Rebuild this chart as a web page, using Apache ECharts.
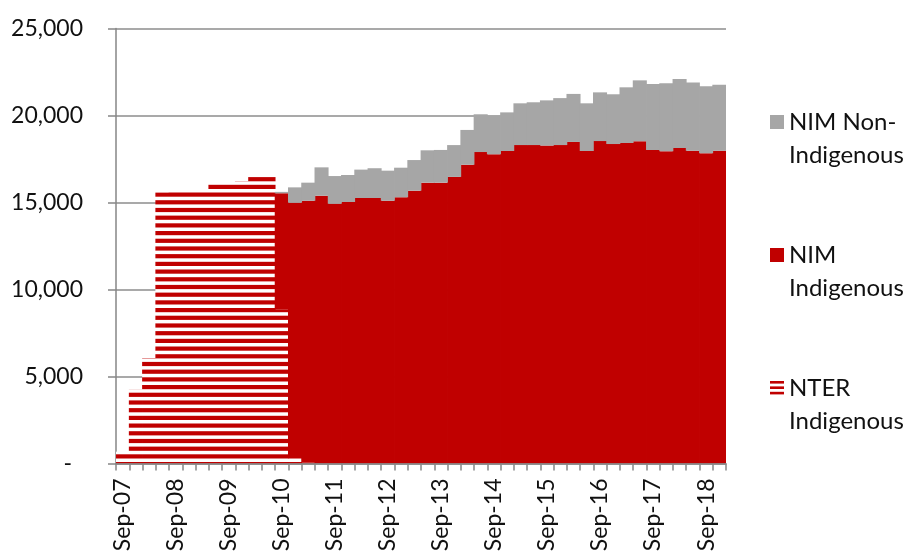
<!DOCTYPE html>
<html>
<head>
<meta charset="utf-8">
<script src="https://cdn.jsdelivr.net/npm/echarts@6/dist/echarts.min.js"></script>
<style>
  html, body { margin: 0; padding: 0; background: #fff; }
  #chart { width: 911px; height: 556px; }
</style>
</head>
<body>
<div id="chart"></div>
<script>
// Quarterly periods, Sep-07 .. Dec-18
const quarters = [
  'Sep-07','Dec-07','Mar-08','Jun-08',
  'Sep-08','Dec-08','Mar-09','Jun-09',
  'Sep-09','Dec-09','Mar-10','Jun-10',
  'Sep-10','Dec-10','Mar-11','Jun-11',
  'Sep-11','Dec-11','Mar-12','Jun-12',
  'Sep-12','Dec-12','Mar-13','Jun-13',
  'Sep-13','Dec-13','Mar-14','Jun-14',
  'Sep-14','Dec-14','Mar-15','Jun-15',
  'Sep-15','Dec-15','Mar-16','Jun-16',
  'Sep-16','Dec-16','Mar-17','Jun-17',
  'Sep-17','Dec-17','Mar-18','Jun-18',
  'Sep-18','Dec-18'
];

// NTER Indigenous recipients (null = no payments in that quarter)
const nterIndigenous = [
  680, 4250, 6060, 15590,
  15700, 15760, 15760, 16060,
  16160, 16220, 16470, 16560,
  8860, 300, 40, null,
  null, null, null, null,
  null, null, null, null,
  null, null, null, null,
  null, null, null, null,
  null, null, null, null,
  null, null, null, null,
  null, null, null, null,
  null, null
];

// NIM Indigenous recipients
const nimIndigenous = [
  null, null, null, null,
  null, null, null, null,
  null, null, null, null,
  6670, 14690, 15060, 15390,
  14930, 15030, 15260, 15260,
  15100, 15300, 15680, 16140,
  16140, 16470, 17170, 17900,
  17770, 17960, 18300, 18300,
  18270, 18300, 18480, 17960,
  18530, 18360, 18420, 18520,
  18020, 17940, 18130, 17980,
  17830, 17980
];

// NIM Non-Indigenous recipients
const nimNonIndigenous = [
  null, null, null, null,
  null, null, null, null,
  null, null, null, null,
  80, 880, 1040, 1630,
  1590, 1550, 1630, 1710,
  1730, 1700, 1760, 1860,
  1880, 1830, 2000, 2170,
  2200, 2220, 2400, 2460,
  2600, 2700, 2760, 2740,
  2800, 2860, 3200, 3500,
  3790, 3910, 3970, 3910,
  3850, 3790
];

const yTicks = [0, 5000, 10000, 15000, 20000, 25000];

const RED = '#C00000';
const GREY = '#A6A6A6';
const AXIS = '#868686';
const INK = '#111';
const FONT = 'Lato, "Open Sans", sans-serif';
// columns slightly wider than their band so neighbours overlap with no seam
const COLUMN_WIDTH = '106%';

// Horizontal red/white stripe fill
function stripes(period, band, count) {
  const c = document.createElement('canvas');
  c.width = 8;
  c.height = Math.round(period * count);
  const g = c.getContext('2d');
  g.fillStyle = '#fff';
  g.fillRect(0, 0, c.width, c.height);
  g.fillStyle = RED;
  for (let i = 0; i < count; i++) {
    g.fillRect(0, i * period, c.width, band);
  }
  return { image: c, repeat: 'repeat' };
}

const barFill = stripes(7.7, 4.2, 10);
const iconFill = stripes(5.4, 2.6, 10);

// leading blank line keeps the legend swatch level with the first text line
const legendText = {
  'NIM Non-Indigenous': '\nNIM Non-\nIndigenous',
  'NIM Indigenous': '\nNIM\nIndigenous',
  'NTER Indigenous': '\nNTER\nIndigenous'
};

const chart = echarts.init(document.getElementById('chart'), null, { renderer: 'canvas' });

chart.setOption({
  animation: false,
  backgroundColor: '#fff',
  grid: { left: 116, right: 185, top: 28.5, bottom: 92.5, containLabel: false },
  legend: {
    orient: 'vertical',
    left: 770,
    top: 72.5,
    padding: 0,
    itemGap: 34,
    itemWidth: 14,
    itemHeight: 14,
    icon: 'rect',
    selectedMode: false,
    formatter: name => legendText[name],
    textStyle: {
      fontFamily: FONT, fontSize: 24, color: INK, lineHeight: 33
    },
    data: [
      { name: 'NIM Non-Indigenous' },
      { name: 'NIM Indigenous' },
      { name: 'NTER Indigenous', itemStyle: { color: iconFill } }
    ]
  },
  xAxis: {
    type: 'category',
    data: quarters,
    boundaryGap: true,
    z: 3,
    axisLine: { show: true, lineStyle: { color: AXIS, width: 1.5 } },
    axisTick: { show: true, interval: 0, length: 7, lineStyle: { color: AXIS, width: 1.5 } },
    axisLabel: {
      interval: 3, rotate: 90, margin: 15,
      fontFamily: FONT, fontSize: 23, color: INK
    },
    splitLine: { show: false }
  },
  yAxis: {
    type: 'value',
    min: yTicks[0],
    max: yTicks[yTicks.length - 1],
    interval: yTicks[1] - yTicks[0],
    axisLine: { show: true, lineStyle: { color: AXIS, width: 1.5 } },
    axisTick: { show: true, length: 8, lineStyle: { color: AXIS, width: 1.5 } },
    axisLabel: {
      margin: 33,
      fontFamily: FONT, fontSize: 23, color: INK,
      formatter: v => v === 0 ? '{z|-}' : v.toLocaleString('en-US'),
      rich: { z: { fontFamily: FONT, fontSize: 23, color: INK, padding: [0, 11, 0, 0] } }
    },
    splitLine: { show: true, lineStyle: { color: '#8c8c8c', width: 1.5 } }
  },
  series: [
    {
      name: 'NTER Indigenous',
      type: 'bar',
      stack: 'total',
      barWidth: COLUMN_WIDTH,
      data: nterIndigenous,
      itemStyle: { color: barFill },
      silent: true
    },
    {
      name: 'NIM Indigenous',
      type: 'bar',
      stack: 'total',
      barWidth: COLUMN_WIDTH,
      data: nimIndigenous,
      itemStyle: { color: RED },
      silent: true
    },
    {
      name: 'NIM Non-Indigenous',
      type: 'bar',
      stack: 'total',
      barWidth: COLUMN_WIDTH,
      data: nimNonIndigenous,
      itemStyle: { color: GREY },
      silent: true
    }
  ]
});
</script>
</body>
</html>
